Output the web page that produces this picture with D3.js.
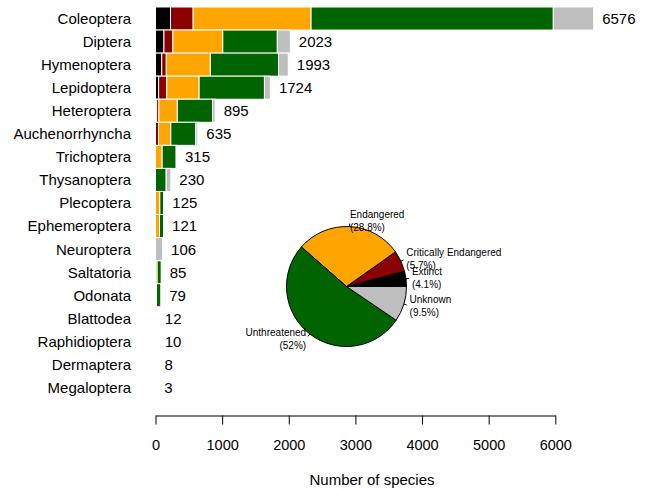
<!DOCTYPE html>
<html>
<head>
<meta charset="utf-8">
<script src="https://cdn.jsdelivr.net/npm/d3@7"></script>
<style>
  body { margin: 0; background: #fff; }
  svg { display: block; font-family: "Liberation Sans", Arial, sans-serif; }
</style>
</head>
<body>
<svg id="chart" width="645" height="490"></svg>
<script>
// Insect orders and their species counts by Red List status
const orders = ["Coleoptera", "Diptera", "Hymenoptera", "Lepidoptera", "Heteroptera",
  "Auchenorrhyncha", "Trichoptera", "Thysanoptera", "Plecoptera", "Ephemeroptera",
  "Neuroptera", "Saltatoria", "Odonata", "Blattodea", "Raphidioptera", "Dermaptera", "Megaloptera"];
const totals       = [6576, 2023, 1993, 1724, 895, 635, 315, 230, 125, 121, 106, 85, 79, 12, 10, 8, 3];
const extinct      = [225, 127,   94,   47,  17,   0,   0,   0,   0,   0,   0,  0,  0,  0,  0, 0, 0];
const critical     = [340, 133,   68,  121,  34,  45,   0,   0,   0,   0,   0,  0,  0,  0,  0, 0, 0];
const endangered   = [1770, 750, 661,  487, 276, 185, 100,   0,  65,  60,   0, 25, 15,  0,  0, 0, 0];
const unthreatened = [3635, 818, 1023, 980, 529, 375, 210, 160,  55,  61,   0, 60, 64,  0,  0, 0, 0];
const unknown      = [606, 195,  147,   89,  39,  30,   5,  70,   5,   0, 106,  0,  0, 12, 10, 8, 3];

// Overall shares shown in the pie
const statusNames  = ["Extinct", "Critically Endangered", "Endangered", "Unthreatened", "Unknown"];
const statusShares = [4.1, 5.7, 28.8, 52, 9.5];
const statusColors = ["#000000", "#8B0000", "#FFA500", "#006400", "#BEBEBE"];

const xTicks = [0, 1000, 2000, 3000, 4000, 5000, 6000];

const keys = ["extinct", "critical", "endangered", "unthreatened", "unknown"];
const rows = orders.map((name, i) => ({
  name, total: totals[i],
  extinct: extinct[i], critical: critical[i], endangered: endangered[i],
  unthreatened: unthreatened[i], unknown: unknown[i]
}));

const svg = d3.select("#chart");

const x = d3.scaleLinear().domain([0, 6000]).range([155.5, 555.3]);
const y = d3.scaleBand().domain(orders).range([7, 399]).padding(0);
const color = d3.scaleOrdinal().domain(keys).range(statusColors);

// Stacked horizontal bars
const series = d3.stack().keys(keys)(rows);
svg.append("g").selectAll("g")
  .data(series)
  .join("g")
  .attr("fill", d => color(d.key))
  .selectAll("rect")
  .data(d => d.filter(s => s[1] - s[0] > 0))
  .join("rect")
  .attr("x", d => x(d[0]))
  .attr("y", d => y(d.data.name))
  .attr("width", d => x(d[1]) - x(d[0]))
  .attr("height", y.bandwidth())
  .attr("stroke", "#fff")
  .attr("stroke-width", 1);

// Totals at the end of each bar
svg.append("g").selectAll("text")
  .data(rows)
  .join("text")
  .attr("x", d => x(d.total) + 8.5)
  .attr("y", d => y(d.name) + y.bandwidth() / 2)
  .attr("dy", "0.36em")
  .attr("font-size", 15)
  .attr("fill", "#000")
  .text(d => d.total);

// Order names
svg.append("g").selectAll("text")
  .data(orders)
  .join("text")
  .attr("x", 131)
  .attr("y", d => y(d) + y.bandwidth() / 2)
  .attr("dy", "0.36em")
  .attr("text-anchor", "end")
  .attr("font-size", 15)
  .attr("fill", "#000")
  .text(d => d);

// X axis
const axis = svg.append("g")
  .attr("transform", "translate(0,415.5)")
  .call(d3.axisBottom(x).tickValues(xTicks).tickSize(9).tickSizeOuter(0).tickPadding(15)
    .tickFormat(d3.format("d")));
axis.selectAll("path, line").attr("stroke", "#000");
axis.selectAll("text").attr("font-size", 14.5).attr("fill", "#000")
  .attr("font-family", "\"Liberation Sans\", Arial, sans-serif");

svg.append("text")
  .attr("x", 372)
  .attr("y", 480)
  .attr("dy", "0.36em")
  .attr("text-anchor", "middle")
  .attr("font-size", 15)
  .attr("fill", "#000")
  .text("Number of species");

// Pie of overall status shares, counter-clockwise from 3 o'clock
const cx = 346.5, cy = 286.5, r = 60;
const pieData = statusNames.map((name, i) => ({ name, share: statusShares[i], color: statusColors[i] }));
const pie = d3.pie().sort(null).value(d => d.share)
  .startAngle(Math.PI / 2).endAngle(Math.PI / 2 - 2 * Math.PI);
const arcs = pie(pieData);
const arc = d3.arc().innerRadius(0).outerRadius(r);

const pg = svg.append("g").attr("transform", `translate(${cx},${cy})`);
pg.selectAll("path")
  .data(arcs)
  .join("path")
  .attr("d", arc)
  .attr("fill", d => d.data.color)
  .attr("stroke", "#000")
  .attr("stroke-width", 1);

const mid = d => (d.startAngle + d.endAngle) / 2;
pg.selectAll("line")
  .data(arcs)
  .join("line")
  .attr("x1", d => Math.sin(mid(d)) * r)
  .attr("y1", d => -Math.cos(mid(d)) * r)
  .attr("x2", d => Math.sin(mid(d)) * r * 1.05)
  .attr("y2", d => -Math.cos(mid(d)) * r * 1.05)
  .attr("stroke", "#000")
  .attr("stroke-width", 1);

const labels = pg.selectAll("text.lab")
  .data(arcs)
  .join("text")
  .attr("class", "lab")
  .attr("font-size", 10)
  .attr("fill", "#000")
  .attr("text-anchor", d => Math.sin(mid(d)) >= 0 ? "start" : "end")
  .attr("transform", d => `translate(${Math.sin(mid(d)) * r * 1.1},${-Math.cos(mid(d)) * r * 1.1})`);
labels.append("tspan").attr("x", 0).attr("y", -6.5).attr("dy", "0.36em").text(d => d.data.name);
labels.append("tspan").attr("x", 0).attr("y", 6.5).attr("dy", "0.36em").text(d => `(${d.data.share}%)`);
</script>
</body>
</html>
